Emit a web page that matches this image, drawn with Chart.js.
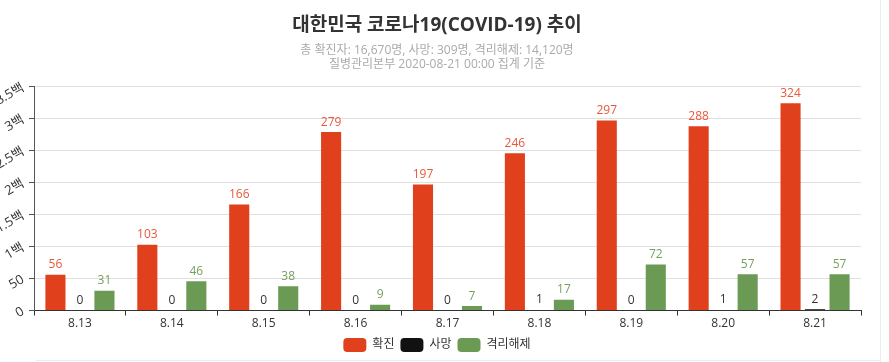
<!DOCTYPE html>
<html>
<head>
<meta charset="utf-8">
<script src="https://cdn.jsdelivr.net/npm/chart.js@4"></script>
<style>
    html, body { margin: 0; padding: 0; background: #fff; overflow: hidden; }
    #wrap { width: 889px; height: 362px; position: relative; }
    #edge-r { position: absolute; left: 880px; top: 0; width: 1px; height: 362px; background: #ececec; }
    #edge-b { position: absolute; left: 36px; top: 360px; width: 844px; height: 1px; background: #ececec; }
</style>
</head>
<body>
<div id="wrap">
    <canvas id="chart" width="889" height="362"></canvas>
    <div id="edge-r"></div>
    <div id="edge-b"></div>
</div>
<script>
const days = ['8.13', '8.14', '8.15', '8.16', '8.17', '8.18', '8.19', '8.20', '8.21'];
const confirmed = [56, 103, 166, 279, 197, 246, 297, 288, 324];
const deaths = [0, 0, 0, 0, 0, 1, 0, 1, 2];
const released = [31, 46, 38, 9, 7, 17, 72, 57, 57];
const yTickLabels = ['0', '50', '1백', '1.5백', '2백', '2.5백', '3백', '3.5백'];

const FONT = "'Open Sans', 'Noto Sans CJK KR', sans-serif";

// draws the value above every bar
const barValues = {
    id: 'barValues',
    afterDatasetsDraw(chart) {
        const ctx = chart.ctx;
        ctx.save();
        ctx.font = '12px ' + FONT;
        ctx.textAlign = 'center';
        ctx.textBaseline = 'bottom';
        chart.data.datasets.forEach((ds, i) => {
            const meta = chart.getDatasetMeta(i);
            ctx.fillStyle = ds.labelColor;
            meta.data.forEach((bar, j) => {
                ctx.fillText(ds.data[j], bar.x, bar.y - 4);
            });
        });
        ctx.restore();
    }
};

const ctx = document.getElementById('chart').getContext('2d');
const chart = new Chart(ctx, {
    type: 'bar',
    data: {
        labels: days,
        datasets: [{
            label: '확진',
            data: confirmed,
            backgroundColor: '#e1401d',
            labelColor: '#e8583c'
        }, {
            label: '사망',
            data: deaths,
            backgroundColor: '#111111',
            labelColor: '#333333'
        }, {
            label: '격리해제',
            data: released,
            backgroundColor: '#6b9a55',
            labelColor: '#76a05c'
        }]
    },
    options: {
        responsive: false,
        animation: false,
        layout: {
            padding: { left: 0, right: 15, top: 10, bottom: 0 }
        },
        datasets: {
            bar: {
                categoryPercentage: 0.8,
                barPercentage: 0.82
            }
        },
        plugins: {
            title: {
                display: true,
                text: '대한민국 코로나19(COVID-19) 추이',
                color: '#333',
                font: { family: FONT, size: 19, weight: 'bold' },
                padding: { top: 4, bottom: 7.5 }
            },
            subtitle: {
                display: true,
                text: ['총 확진자: 16,670명, 사망: 309명, 격리해제: 14,120명', '질병관리본부 2020-08-21 00:00 집계 기준'],
                color: '#aaa',
                font: { family: FONT, size: 12, lineHeight: 1.1 },
                padding: { top: 0, bottom: 16 }
            },
            legend: {
                position: 'bottom',
                labels: {
                    color: '#333',
                    font: { family: FONT, size: 12 },
                    boxWidth: 23,
                    boxHeight: 14,
                    useBorderRadius: true,
                    borderRadius: 4,
                    padding: 6
                }
            },
            tooltip: { enabled: false }
        },
        scales: {
            x: {
                grid: {
                    drawOnChartArea: false,
                    tickLength: 5,
                    color: '#333'
                },
                border: { color: '#333' },
                ticks: {
                    color: '#333',
                    font: { family: FONT, size: 12 },
                    padding: 1,
                    maxRotation: 0
                }
            },
            y: {
                min: 0,
                max: 350,
                afterFit(scale) { scale.width = 34; },
                grid: {
                    color: '#e0e0e0',
                    tickColor: '#555',
                    tickLength: 5
                },
                border: { color: '#555' },
                ticks: {
                    stepSize: 50,
                    minRotation: 30,
                    maxRotation: 30,
                    padding: 6,
                    color: '#333',
                    font: { family: FONT, size: 13 },
                    callback: (v, i) => yTickLabels[i]
                }
            },
            // empty spacer on the right so the title and legend sit where they do in the original
            spacer: {
                type: 'linear',
                position: 'right',
                min: 0,
                max: 350,
                afterFit(scale) { scale.width = 13; },
                grid: { display: false, drawTicks: false },
                border: { display: false },
                ticks: { display: false }
            }
        }
    },
    plugins: [barValues]
});
</script>
</body>
</html>
